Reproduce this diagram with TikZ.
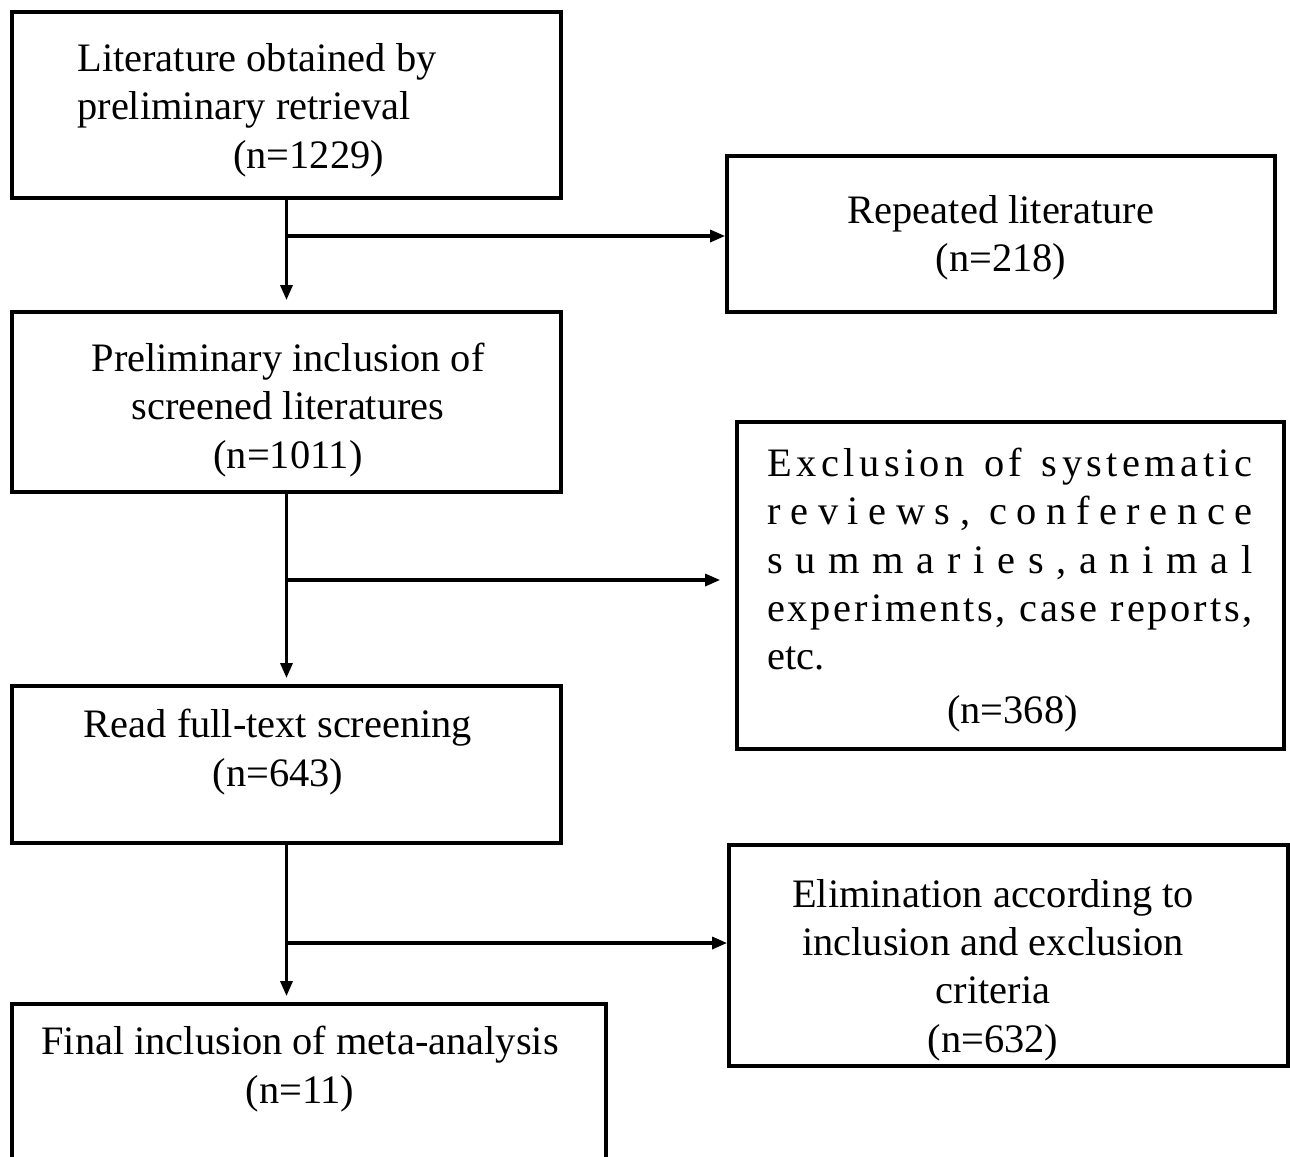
\documentclass[tikz,border=0pt]{standalone}
\usepackage{fontspec}
\setmainfont{Liberation Serif}
\newfontfamily\widefont[LetterSpace=11]{Liberation Serif}
\newfontfamily\midfont[LetterSpace=7]{Liberation Serif}
\usetikzlibrary{arrows.meta}

\newcommand{\exclw}{9.7cm}

\begin{document}
\begin{tikzpicture}[
    x=0.02cm, y=-0.02cm,
    font=\fontsize{23}{27.5}\selectfont,
    box/.style={draw=black, line width=2.2pt, rectangle, inner sep=0pt},
    txt/.style={inner sep=0pt, align=center},
    arrow/.style={-{Triangle[length=0.3cm, width=0.24cm]}, line width=1.8pt, black}
]
\useasboundingbox (0,0) rectangle (1290,1156);

% Boxes (left column)
\node[box, minimum width=10.98cm, minimum height=3.72cm] (b1) at (286.5,105) {};
\node[box, minimum width=10.98cm, minimum height=3.6cm]  (b2) at (286.5,402) {};
\node[box, minimum width=10.98cm, minimum height=3.14cm] (b3) at (286.5,764.5) {};
\node[box, minimum width=11.88cm, minimum height=3.32cm] (b4) at (309,1087) {};

% Boxes (right column)
\node[box, minimum width=10.96cm, minimum height=3.12cm] (rep)  at (1001,234) {};
\node[box, minimum width=10.94cm, minimum height=6.54cm] (excl) at (1010.5,585.5) {};
\node[box, minimum width=11.18cm, minimum height=4.42cm] (elim) at (1008.5,955.5) {};

% Texts
\node[txt, align=left, anchor=west] (t1) at (77,110)
  {Literature obtained by\\preliminary retrieval\\\hspace*{3.12cm}(n=1229)};
\node[txt] (t2) at (288,410) {Preliminary inclusion of\\screened literatures\\(n=1011)};
\node[txt] (t3) at (278,752) {Read full-text screening\\(n=643)};
\node[txt] (t4) at (300,1069) {Final inclusion of meta-analysis\\(n=11)};
\node[txt] (tr) at (1001,238) {Repeated literature\\(n=218)};
\node[txt, text width=\exclw, align=left] (te) at (1010,590)
  {\makebox[\exclw]{\widefont Exclusion \hfill of \hfill systematic}\\
   \makebox[\exclw]{r\hfill e\hfill v\hfill i\hfill e\hfill w\hfill s\hfill ,\hfill\hfill
     c\hfill o\hfill n\hfill f\hfill e\hfill r\hfill e\hfill n\hfill c\hfill e}\\
   \makebox[\exclw]{s\hfill u\hfill m\hfill m\hfill a\hfill r\hfill i\hfill e\hfill s\hfill ,\hfill
     a\hfill n\hfill i\hfill m\hfill a\hfill l}\\
   \makebox[\exclw]{\midfont experiments, \hfill case \hfill reports,}\\
   etc.\\[0.1cm]
   \makebox[\exclw]{\hspace*{0.1cm}(n=368)}};
\node[txt] (tl) at (993,970)
  {Elimination according to\\inclusion and exclusion\\criteria\\(n=632)};

% Branch points
\coordinate (j1) at (288,236);
\coordinate (j2) at (288,580);
\coordinate (j3) at (288,943);

% Arrows
\draw[arrow] (b1.south) -- ([yshift=0.2cm]b2.north);
\draw[arrow] (j1) -- (j1 -| rep.west);
\draw[arrow] (b2.south) -- ([yshift=0.12cm]b3.north);
\draw[arrow] (j2) -- ([xshift=-0.3cm]j2 -| excl.west);
\draw[arrow] (b3.south) -- ([yshift=0.12cm]b3.south |- b4.north);
\draw[arrow] (j3) -- (j3 -| elim.west);

\end{tikzpicture}
\end{document}
